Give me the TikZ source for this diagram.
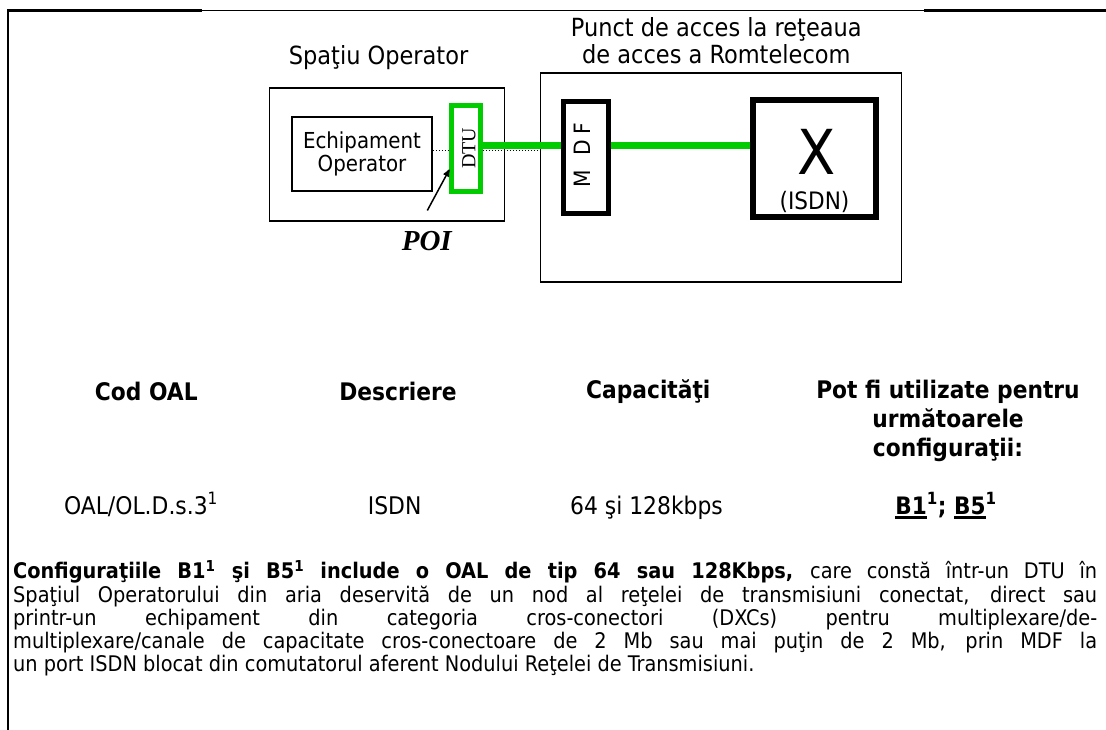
\documentclass[tikz,border=0pt]{standalone}
\usepackage{fontspec}
\setmainfont{DejaVu Sans Condensed}
\newfontfamily\timesfont{Liberation Serif}
\usetikzlibrary{arrows}
\definecolor{dtugreen}{RGB}{0,204,0}
\hyphenpenalty=10000
\exhyphenpenalty=10000
\newcommand{\undl}[1]{\vtop{\hbox{#1}\kern2pt\hrule height 2.5pt}}

\begin{document}
\begin{tikzpicture}[x=1pt,y=-1pt,
    body/.style={font={\fontsize{21.5}{23.3}\selectfont}},
    title/.style={font={\fontsize{25}{27}\selectfont},align=center,inner sep=0pt},
    head/.style={font={\fontsize{24.2}{29}\selectfont\bfseries},align=center,inner sep=0pt},
    cell/.style={font={\fontsize{24.3}{27}\selectfont},inner sep=0pt,anchor=base},
    plainbox/.style={draw,line width=1.5pt,inner sep=0pt},
    link/.style={draw=dtugreen,line width=7.5pt},
    tap/.style={dotted,line width=1pt}]
\useasboundingbox (0,0) rectangle (1106,730);
\draw[line width=1.2pt] (8,10.5) -- (1106,10.5);
\draw[line width=2.2pt] (7,10.5) -- (202,10.5) (924,10.5) -- (1106,10.5);
\draw[line width=2pt] (8,9.5) -- (8,730);

% spatiul operatorului
\node[title] (optitle) at (378.6,58) {Spaţiu Operator};
\node[plainbox,minimum width=235pt,minimum height=133pt] (opbox) at (387,154.5) {};
\node[plainbox,minimum width=140pt,minimum height=74pt,align=center,
    font={\fontsize{22}{23.3}\selectfont}] (echip) at (362,154.2) {Echipament\\Operator};
\node[draw=dtugreen,line width=5pt,minimum width=29pt,minimum height=86pt,
    inner sep=0pt] (dtu) at (466.4,148.6) {};
\node[rotate=90,inner sep=0pt,font={\timesfont\fontsize{20}{20}\selectfont}]
    (dtutext) at (468.8,148.3) {DTU};
\node[inner sep=0pt,font={\timesfont\fontsize{29}{29}\selectfont\bfseries\itshape}]
    (poi) at (426.8,240.7) {POI};
\coordinate (poitail) at (427.3,210.5);
\draw[->,>=stealth',line width=1.5pt] (poitail) -- (dtu.west |- 0,169.5);

% punctul de acces
\node[title] (romtitle) at (716.3,41) {Punct de acces la reţeaua\\de acces a Romtelecom};
\node[plainbox,minimum width=361pt,minimum height=209pt] (rombox) at (721.2,177.3) {};
\node[draw,line width=5pt,minimum width=45pt,minimum height=112pt,inner sep=0pt]
    (mdf) at (585.5,157.2) {};
\node[rotate=90,inner sep=0pt,font={\fontsize{22.5}{22.5}\selectfont}]
    (mdftext) at (582.5,155) {M\hspace{14pt}D\hspace{6pt}F};
\node[draw,line width=6.5pt,minimum width=123pt,minimum height=117pt,inner sep=0pt]
    (xbox) at (814.4,158.7) {};
\node[inner sep=0pt,font={\fontsize{62}{62}\selectfont}] (xmark) at (816.3,151.7) {X};
\node[inner sep=0pt,font={\fontsize{24}{24}\selectfont}] (isdn) at (814.5,201.7) {(ISDN)};

\draw[tap] (echip.east |- 0,150.5) -- (dtu.west |- 0,150.5);
\draw[tap] (dtu.east |- 0,150.5) -- (rombox.west |- 0,150.5);
\draw[link] (dtu.east |- 0,145.3) -- (mdf.west |- 0,145.3);
\draw[link] (mdf.east |- 0,145.3) -- (xbox.west |- 0,145.3);

% tabel
\node[head] (hcod) at (146.3,391.7) {Cod OAL};
\node[head] (hdesc) at (398,391.7) {Descriere};
\node[head] (hcap) at (648.3,391.7) {Capacităţi};
\node[head] (hpot) at (948,421) {Pot fi utilizate pentru\\următoarele\\configuraţii:};
\node[cell] (vcod) at (141,514) {OAL/OL.D.s.3\textsuperscript{1}};
\node[cell] (vdesc) at (394.6,514) {ISDN};
\node[cell] (vcap) at (646.5,514) {64 şi 128kbps};
\node[cell,font={\fontsize{24}{27}\selectfont\bfseries}] (vpot) at (946,514)
    {\undl{B1}\textsuperscript{1}; \undl{B5}\textsuperscript{1}};

\node[body,anchor=north west,inner sep=0pt,text width=1084pt,align=justify] (para) at (13,560)
{\textbf{Configuraţiile B1\textsuperscript{1} şi B5\textsuperscript{1} include o OAL de tip 64 sau 128Kbps,} care constă într-un DTU în\linebreak
Spaţiul Operatorului din aria deservită de un nod al reţelei de transmisiuni conectat, direct sau\linebreak
printr-un echipament din categoria cros-conectori (DXCs) pentru multiplexare/de-\linebreak
multiplexare/canale de capacitate cros-conectoare de 2 Mb sau mai puţin de 2 Mb, prin MDF la\linebreak
un port ISDN blocat din comutatorul aferent Nodului Reţelei de Transmisiuni.};
\end{tikzpicture}
\end{document}
